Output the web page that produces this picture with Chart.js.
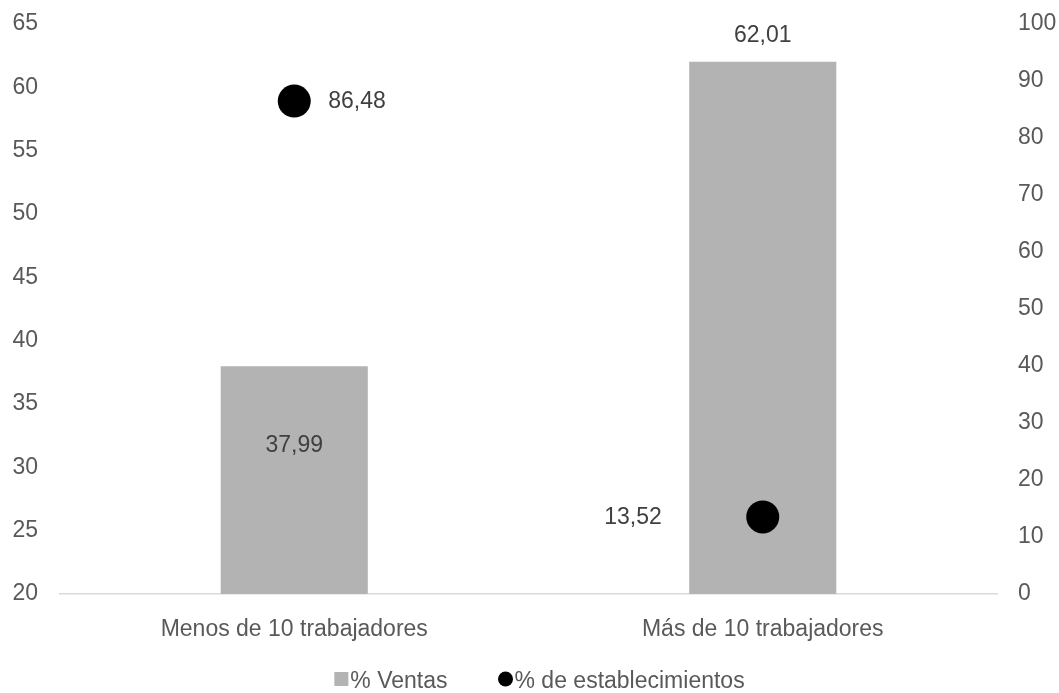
<!DOCTYPE html>
<html>
<head>
<meta charset="utf-8">
<script src="https://cdn.jsdelivr.net/npm/chart.js@4.4.1/dist/chart.umd.min.js"></script>
<style>
  html, body { margin: 0; padding: 0; background: #ffffff; }
  #wrap { width: 1059px; height: 693px; }
</style>
</head>
<body>
<div id="wrap"><canvas id="chart" width="1059" height="693"></canvas></div>
<script>
// categories and series
const categories = ["Menos de 10 trabajadores", "Más de 10 trabajadores"];
const ventas = [37.99, 62.01];
const establecimientos = [86.48, 13.52];

const leftTicks = [20, 65, 5];   // min, max, step
const rightTicks = [0, 100, 10];

const FONT = "'Liberation Sans', Arial, sans-serif";
const TICK_COLOR = "#595959";
const LABEL_COLOR = "#404040";
const BAR_COLOR = "#b3b3b3";

const fmt = (v) => v.toFixed(2).replace(".", ",");

// value labels, drawn next to each mark after the datasets
const valueLabels = {
  id: "valueLabels",
  afterDatasetsDraw(chart, args, opts) {
    const ctx = chart.ctx;
    const bottom = chart.chartArea.bottom;
    ctx.save();
    ctx.font = "23px " + FONT;
    ctx.fillStyle = LABEL_COLOR;
    ctx.textBaseline = "middle";
    chart.data.datasets.forEach((ds, di) => {
      const meta = chart.getDatasetMeta(di);
      const place = opts.placement[di];
      meta.data.forEach((el, i) => {
        const p = place[i];
        const text = fmt(ds.data[i]);
        let x = el.x, y = el.y;
        if (meta.type === "bar") {
          ctx.textAlign = "center";
          // the bar base sits below the visible axis minimum
          const base = Math.min(el.base, bottom);
          if (p.inside) y = el.y + (base - el.y) * p.inside;
          else y = el.y + p.dy;
        } else {
          ctx.textAlign = p.dx > 0 ? "left" : "right";
          x = el.x + p.dx;
          y = el.y + (p.dy || 0);
        }
        ctx.fillText(text, x, y);
      });
    });
    ctx.restore();
  }
};

// legend drawn below the axis
const bottomLegend = {
  id: "bottomLegend",
  afterDraw(chart, args, opts) {
    const ctx = chart.ctx;
    ctx.save();
    ctx.font = "23px " + FONT;
    ctx.textBaseline = "middle";
    const items = chart.data.datasets.map((ds) => ({
      text: ds.label,
      color: ds.legendColor,
      shape: ds.pointStyle
    }));
    const size = 14, gap = 2, spacing = 51;
    let total = 0;
    items.forEach((it, i) => {
      it.w = ctx.measureText(it.text).width;
      total += size + gap + it.w + (i ? spacing : 0);
    });
    let x = chart.width / 2 + opts.shift - total / 2;
    const y = opts.y;
    items.forEach((it, i) => {
      if (i) x += spacing;
      ctx.fillStyle = it.color;
      if (it.shape === "circle") {
        ctx.beginPath();
        ctx.arc(x + size / 2, y - 2, size / 2 + 0.5, 0, Math.PI * 2);
        ctx.fill();
      } else {
        ctx.fillRect(x, y - 2 - size / 2, size, size);
      }
      x += size + gap;
      ctx.fillStyle = TICK_COLOR;
      ctx.textAlign = "left";
      ctx.fillText(it.text, x, y + 1);
      x += it.w;
    });
    ctx.restore();
  }
};

// fixed axis width; tick labels may overflow into the layout padding
const fitSide = (w) => (s) => {
  s.width = w;
  s.paddingTop = 0;
  s.paddingBottom = 0;
};

new Chart(document.getElementById("chart"), {
  data: {
    labels: categories,
    datasets: [
      {
        type: "bar",
        label: "% Ventas",
        data: ventas,
        backgroundColor: BAR_COLOR,
        legendColor: BAR_COLOR,
        pointStyle: "rect",
        yAxisID: "y",
        barPercentage: 0.314,
        categoryPercentage: 1,
        order: 2
      },
      {
        type: "line",
        label: "% de establecimientos",
        data: establecimientos,
        showLine: false,
        pointRadius: 16.5,
        pointHoverRadius: 16.5,
        pointBackgroundColor: "#000000",
        pointBorderWidth: 0,
        legendColor: "#000000",
        pointStyle: "circle",
        yAxisID: "y1",
        order: 1
      }
    ]
  },
  options: {
    responsive: false,
    animation: false,
    events: [],
    layout: { padding: { top: 24, bottom: 43, left: 0, right: 0 } },
    plugins: {
      legend: { display: false },
      tooltip: { enabled: false },
      valueLabels: {
        placement: [
          [{ inside: 0.35 }, { dy: -26 }],
          [{ dx: 34, dy: 1 }, { dx: -101, dy: 1 }]
        ]
      },
      bottomLegend: { y: 681, shift: 10 }
    },
    scales: {
      x: {
        offset: true,
        grid: { display: false, drawTicks: false },
        border: { display: true, color: "#d9d9d9", width: 1.5 },
        ticks: {
          color: TICK_COLOR,
          font: { family: FONT, size: 23 },
          padding: 22,
          maxRotation: 0
        },
        afterFit: (s) => { s.height = 56; }
      },
      y: {
        position: "left",
        min: leftTicks[0],
        max: leftTicks[1],
        grid: { display: false, drawTicks: false },
        border: { display: false },
        ticks: {
          stepSize: leftTicks[2],
          color: TICK_COLOR,
          font: { family: FONT, size: 23 },
          padding: 22
        },
        afterFit: fitSide(60)
      },
      y1: {
        position: "right",
        min: rightTicks[0],
        max: rightTicks[1],
        grid: { display: false, drawTicks: false },
        border: { display: false },
        ticks: {
          stepSize: rightTicks[2],
          color: TICK_COLOR,
          font: { family: FONT, size: 23 },
          padding: 21
        },
        afterFit: fitSide(62)
      }
    }
  },
  plugins: [valueLabels, bottomLegend]
});
</script>
</body>
</html>
